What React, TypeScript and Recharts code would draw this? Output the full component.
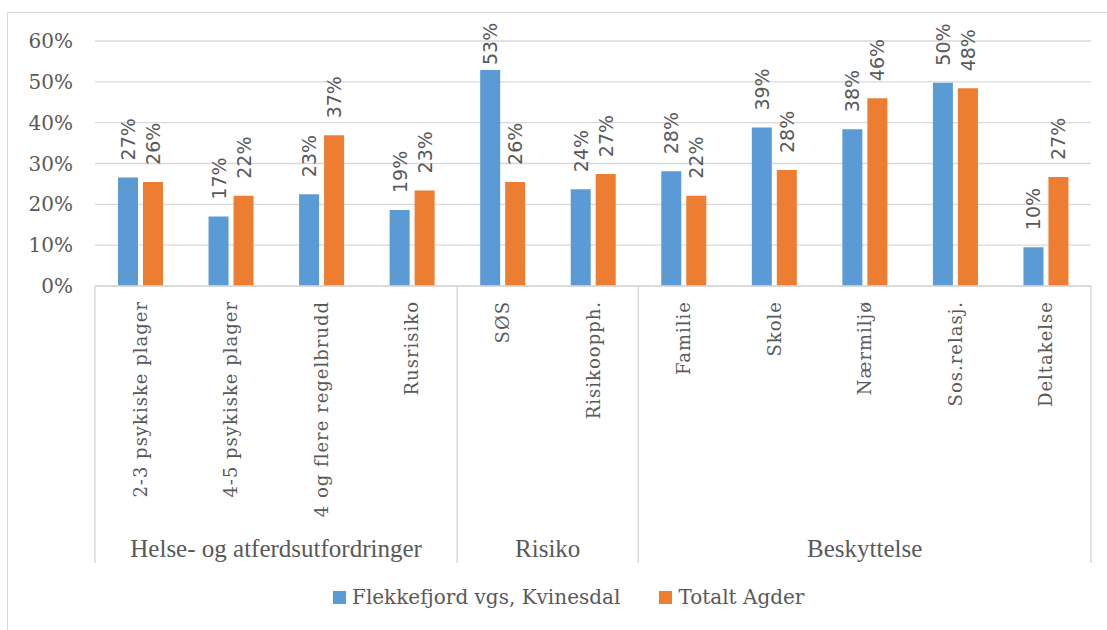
import { BarChart, Bar, XAxis, YAxis, CartesianGrid, LabelList } from "recharts";

const categories = [
  "2-3 psykiske plager",
  "4-5 psykiske plager",
  "4 og flere regelbrudd",
  "Rusrisiko",
  "SØS",
  "Risikoopph.",
  "Familie",
  "Skole",
  "Nærmiljø",
  "Sos.relasj.",
  "Deltakelse",
];
const flekkefjord = [26.6, 17.0, 22.5, 18.6, 52.9, 23.7, 28.1, 38.8, 38.4, 49.8, 9.5];
const agder = [25.5, 22.1, 36.9, 23.4, 25.5, 27.4, 22.1, 28.4, 46.0, 48.4, 26.7];
const groups = [
  { name: "Helse- og atferdsutfordringer", count: 4 },
  { name: "Risiko", count: 2 },
  { name: "Beskyttelse", count: 5 },
];
const yTicks = [0, 10, 20, 30, 40, 50, 60];
const seriesNames = ["Flekkefjord vgs, Kvinesdal", "Totalt Agder"];
const colors = ["#5B9BD5", "#ED7D31"];

const data = categories.map((name, i) => ({ name, a: flekkefjord[i], b: agder[i] }));

const W = 1107;
const H = 630;
const M = { top: 41, right: 16, bottom: 64, left: 0 };
const Y_W = 95;
const X_H = 280;
const band = (W - M.left - M.right - Y_W) / categories.length;
const GRID = "#D9D9D9";
const TEXT = "#595959";

// start index of each group
const groupStarts: Record<number, { name: string; count: number }> = {};
let acc = 0;
groups.forEach((g) => {
  groupStarts[acc] = g;
  acc += g.count;
});

const CategoryTick = (props: any) => {
  const { x, y, payload, index } = props;
  const top = y - 8;
  const g = groupStarts[index];
  const left = x - band / 2;
  return (
    <g>
      <text
        x={x}
        y={top + 15}
        transform={`rotate(-90, ${x}, ${top + 15})`}
        textAnchor="end"
        dominantBaseline="central"
        fontFamily="DejaVu Serif"
        fontSize={18}
        letterSpacing={1}
        fill={TEXT}
      >
        {payload.value}
      </text>
      {g && (
        <>
          <line x1={left} x2={left} y1={top} y2={top + 277} stroke={GRID} strokeWidth={1.5} />
          <text
            x={left + (g.count * band) / 2}
            y={top + 271}
            textAnchor="middle"
            fontFamily="Liberation Serif"
            fontSize={25}
            fill={TEXT}
          >
            {g.name}
          </text>
        </>
      )}
      {index === categories.length - 1 && (
        <line x1={x + band / 2} x2={x + band / 2} y1={top} y2={top + 277} stroke={GRID} strokeWidth={1.5} />
      )}
    </g>
  );
};

const ValueLabel = (props: any) => {
  const { x, y, width, value } = props;
  const cx = x + width / 2;
  // keep the label inside the chart frame, as the original does for the tallest bar
  const sy = Math.max(y - 17, 65);
  return (
    <text
      x={cx}
      y={sy}
      transform={`rotate(-90, ${cx}, ${sy})`}
      textAnchor="start"
      dominantBaseline="central"
      fontFamily="DejaVu Sans"
      fontSize={19}
      fill={TEXT}
    >
      {Math.round(value)}%
    </text>
  );
};

export default function App() {
  return (
    <div style={{ position: "absolute", left: 0, top: 0, width: W, height: H, background: "#fff", overflow: "hidden" }}>
      <div
        style={{
          position: "absolute",
          left: 7,
          top: 12,
          width: W + 20,
          height: H + 20,
          border: `1.5px solid ${GRID}`,
        }}
      />
      <div style={{ position: "absolute", left: 0, top: 0 }}>
        <BarChart width={W} height={H} data={data} margin={M} barGap={5} barSize={20}>
          <CartesianGrid vertical={false} stroke={GRID} strokeWidth={1.4} />
          <XAxis
            dataKey="name"
            interval={0}
            height={X_H}
            tickLine={false}
            axisLine={{ stroke: GRID, strokeWidth: 1.4 }}
            tick={<CategoryTick />}
          />
          <YAxis
            width={Y_W}
            domain={[0, 60]}
            ticks={yTicks}
            tickFormatter={(v: number) => `${v}%`}
            axisLine={false}
            tickLine={false}
            tickSize={0}
            tickMargin={22}
            tick={{ fontFamily: "DejaVu Serif", fontSize: 20, fill: TEXT }}
          />
          <Bar dataKey="a" name={seriesNames[0]} fill={colors[0]} isAnimationActive={false}>
            <LabelList dataKey="a" content={<ValueLabel />} />
          </Bar>
          <Bar dataKey="b" name={seriesNames[1]} fill={colors[1]} isAnimationActive={false}>
            <LabelList dataKey="b" content={<ValueLabel />} />
          </Bar>
        </BarChart>
      </div>
      <div
        style={{
          position: "absolute",
          top: 585,
          left: 333,
          display: "flex",
          alignItems: "center",
          fontFamily: "DejaVu Serif",
          fontSize: 20,
          color: TEXT,
        }}
      >
        {seriesNames.map((n, i) => (
          <div key={n} style={{ display: "flex", alignItems: "center", marginRight: 39 }}>
            <span style={{ width: 13, height: 13, background: colors[i], marginRight: 6, display: "inline-block" }} />
            <span>{n}</span>
          </div>
        ))}
      </div>
    </div>
  );
}
